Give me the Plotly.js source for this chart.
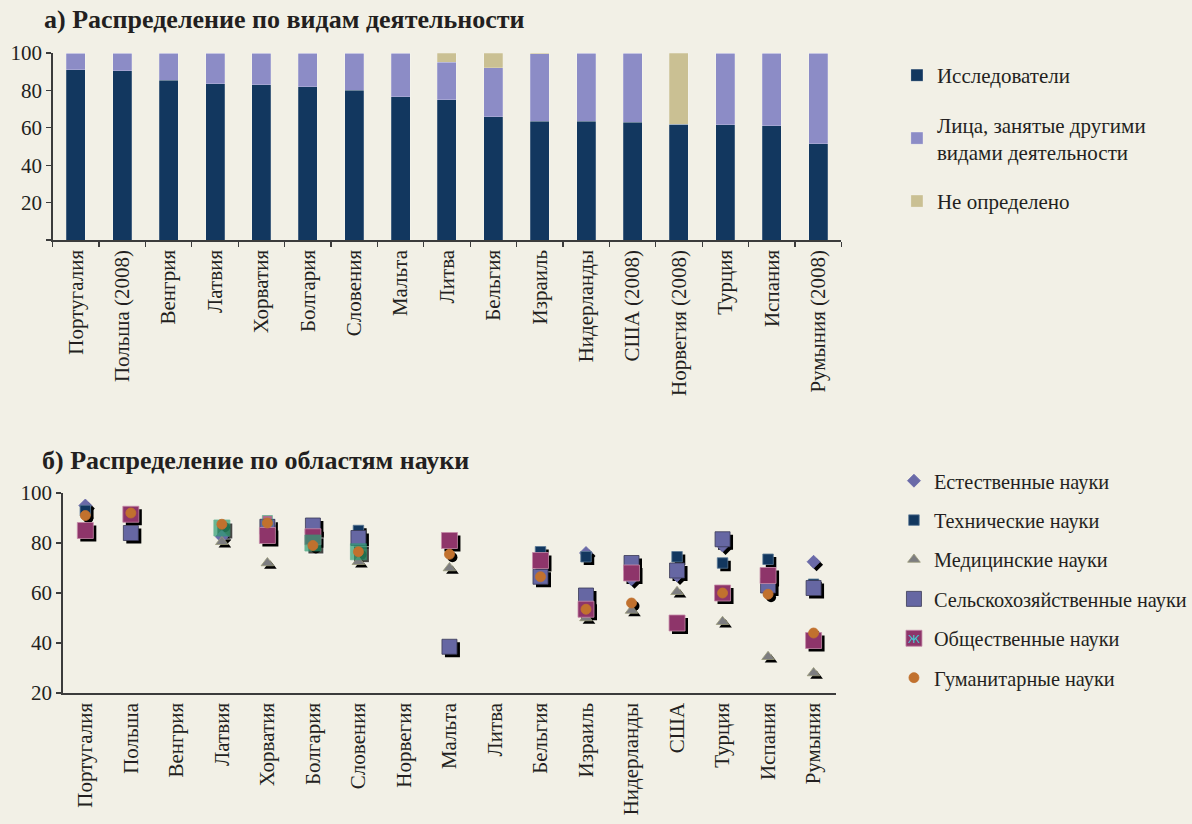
<!DOCTYPE html>
<html>
<head>
<meta charset="utf-8">
<script src="https://cdn.plot.ly/plotly-3.0.1.min.js"></script>
<style>
  html, body { margin: 0; padding: 0; background: #F2F0E6; }
  #chart { width: 1192px; height: 824px; }
</style>
</head>
<body>
<div id="chart"></div>
<script>
// --- a) Researchers vs. other staff, % ---
const countriesA = ['Португалия', 'Польша (2008)', 'Венгрия', 'Латвия', 'Хорватия', 'Болгария',
  'Словения', 'Мальта', 'Литва', 'Бельгия', 'Израиль', 'Нидерланды', 'США (2008)',
  'Норвегия (2008)', 'Турция', 'Испания', 'Румыния (2008)'];
const researchers = [91, 90.5, 85.5, 83.5, 83, 82, 80, 76.5, 75, 66, 63.5, 63.5, 63, 62, 61.5, 61, 51.5];
const otherStaff  = [9, 9.5, 14.5, 16.5, 17, 18, 20, 23.5, 20, 26, 36, 36.5, 37, 0, 38.5, 39, 48.5];
const notDefined  = [0, 0, 0, 0, 0, 0, 0, 0, 5, 8, 0.5, 0, 0, 38, 0, 0, 0];

// --- b) Researchers by field of science, % ---
const countriesB = ['Португалия', 'Польша', 'Венгрия', 'Латвия', 'Хорватия', 'Болгария', 'Словения',
  'Норвегия', 'Мальта', 'Литва', 'Бельгия', 'Израиль', 'Нидерланды', 'США', 'Турция', 'Испания', 'Румыния'];
const natural      = [95, null, null, 82.5, null, null, null, null, null, null, null, 76, 65.5, 67, 79, null, 72.5];
const technical    = [93, null, null, null, null, null, 85, null, null, null, 76.5, 74.5, null, 74.5, 72, 73.5, 63.5];
const medical      = [null, null, null, 80.5, 72, null, 72.5, null, 70, null, null, 50, 53, 60.5, 48.5, 34.5, 28];
const agricultural = [null, 84, null, null, 86.5, 87, 82, null, 38.5, null, 66.5, 59, 72, 69, 81.5, 63, 62];
const social       = [85, 91.5, null, null, 83, 82.5, null, null, 81, null, 73, 53.5, 68, 48, 60, 67, 41];
const socialAlt    = [null, null, null, 86, 89, 80, 76.5, null, null, null, null, null, null, null, null, null, null];
const humanities   = [91, 92, null, 87.5, 88, 79, 76.5, null, 75.5, null, 66.5, 53.5, 56, null, 60, 59.5, 44];

const FONT = 'Liberation Serif, Times New Roman, serif';
const INK = '#231F20';
const AXIS = '#3C3C3C';
const W = 1192, H = 824;

// plot-area boxes in pixels
const boxA = {l: 53, r: 847, t: 53, b: 240};
const boxB = {l: 63, r: 842, t: 493, b: 693};
const SH = 3; // marker shadow offset, px
const dx = px => px / W;
const dy = px => 1 - px / H;

const traces = [];

// stacked bars
const barSeries = [
  {name: 'Исследователи', y: researchers, color: '#12375F'},
  {name: 'Лица, занятые другими<br>видами деятельности', y: otherStaff, color: '#8C8CC6'},
  {name: 'Не определено', y: notDefined, color: '#CAC093'}
];
barSeries.forEach((s, i) => traces.push({
  type: 'bar', x: countriesA, y: s.y, name: s.name,
  marker: {color: s.color, line: {color: 'rgba(255,255,255,0.35)', width: 0.6}},
  xaxis: 'x', yaxis: 'y', legend: 'legend', legendgroup: 'a' + i,
  hoverinfo: 'skip'
}));

// scatter series: shadows go on x2/y2 (drawn first), marks on x3/y3
const pointSeries = [
  {name: 'Естественные науки', y: natural, symbol: 'diamond', size: 10, color: '#6A6AA8', line: '#6A6AA8'},
  {name: 'Технические науки', y: technical, symbol: 'square', size: 10.5, color: '#12375F', line: '#5A7896'},
  {name: 'Медицинские науки', y: medical, symbol: 'triangle-up', size: 11, color: '#7D7D80', line: '#9A9A7A'},
  {name: 'Сельскохозяйственные науки', y: agricultural, symbol: 'square', size: 15, color: '#6667A3', line: '#3A3A55'},
  {name: 'Общественные науки', y: social, symbol: 'square', size: 16, color: '#8E356A', line: '#C58AA8'},
  {name: 'Общественные науки', y: socialAlt, symbol: 'square', size: [0, 0, 0, 16, 10, 16, 16],
   color: [null, null, null, '#2F9E74', '#8E356A', '#2F9E74', '#2F9E74'], line: '#2F9E74', hidden: true},
  {name: 'Гуманитарные науки', y: humanities, symbol: 'circle', size: 10, color: '#C1712E', line: '#C1712E'}
];
pointSeries.forEach(s => traces.push({
  type: 'scatter', mode: 'markers', x: countriesB, y: s.y, showlegend: false,
  marker: {symbol: s.symbol, size: s.size, color: '#000000'},
  xaxis: 'x2', yaxis: 'y2', hoverinfo: 'skip'
}));
pointSeries.forEach((s, i) => traces.push({
  type: 'scatter', mode: 'markers', x: countriesB, y: s.y, name: s.name,
  showlegend: !s.hidden, legend: 'legend2', legendgroup: 'b' + i,
  marker: {symbol: s.symbol, size: s.size, color: s.color, line: {color: s.line, width: 0.8}},
  xaxis: 'x3', yaxis: 'y3'
}));

const tickFont = {family: FONT, size: 21, color: INK};

const layout = {
  width: W, height: H,
  margin: {l: 0, r: 0, t: 0, b: 0},
  paper_bgcolor: '#F2F0E6', plot_bgcolor: 'rgba(0,0,0,0)',
  barmode: 'stack', bargap: 0.59,
  showlegend: true,
  font: {family: FONT, color: INK},
  xaxis: {
    domain: [dx(boxA.l), dx(boxA.r)], anchor: 'y', type: 'category',
    showline: true, linecolor: AXIS, linewidth: 1.5,
    ticks: 'outside', tickson: 'boundaries', ticklen: 5, tickcolor: AXIS, tickwidth: 1.2,
    tickangle: -90, tickfont: tickFont, showgrid: false, fixedrange: true
  },
  yaxis: {
    domain: [dy(boxA.b), dy(boxA.t)], anchor: 'x', range: [0, 100],
    tickvals: [0, 20, 40, 60, 80, 100], ticktext: ['', '20', '40', '60', '80', '100'],
    showline: true, linecolor: AXIS, linewidth: 1.5,
    ticks: 'outside', ticklen: 5, tickcolor: AXIS, tickwidth: 1.2,
    tickfont: tickFont, showgrid: false, zeroline: false, fixedrange: true
  },
  xaxis2: {
    domain: [dx(boxB.l + SH), dx(boxB.r + SH)], anchor: 'y2', type: 'category',
    range: [-0.5, countriesB.length - 0.5], visible: false, fixedrange: true
  },
  yaxis2: {
    domain: [dy(boxB.b + SH), dy(boxB.t + SH)], anchor: 'x2', range: [20, 100],
    visible: false, fixedrange: true
  },
  xaxis3: {
    domain: [dx(boxB.l), dx(boxB.r)], anchor: 'y3', type: 'category',
    range: [-0.5, countriesB.length - 0.5],
    showline: true, linecolor: AXIS, linewidth: 1.5, ticks: '',
    tickangle: -90, tickfont: tickFont, showgrid: false, fixedrange: true
  },
  yaxis3: {
    domain: [dy(boxB.b), dy(boxB.t)], anchor: 'x3', range: [20, 100],
    tickvals: [20, 40, 60, 80, 100],
    showline: true, linecolor: AXIS, linewidth: 1.5,
    ticks: 'outside', ticklen: 5, tickcolor: AXIS, tickwidth: 1.2,
    tickfont: tickFont, showgrid: false, zeroline: false, fixedrange: true
  },
  legend: {
    x: dx(903), y: dy(55), xanchor: 'left', yanchor: 'top',
    bgcolor: 'rgba(0,0,0,0)', font: {family: FONT, size: 21, color: INK},
    traceorder: 'grouped', tracegroupgap: 19, itemclick: false, itemdoubleclick: false
  },
  legend2: {
    x: dx(900), y: dy(461), xanchor: 'left', yanchor: 'top',
    bgcolor: 'rgba(0,0,0,0)', font: {family: FONT, size: 20.3, color: INK},
    traceorder: 'grouped', tracegroupgap: 10, itemclick: false, itemdoubleclick: false
  },
  annotations: [
    {text: '<b>а) Распределение по видам деятельности</b>', xref: 'paper', yref: 'paper',
     x: dx(42), y: dy(19), xanchor: 'left', yanchor: 'middle', showarrow: false,
     font: {family: FONT, size: 26, color: INK}},
    {text: '<b>б) Распределение по областям науки</b>', xref: 'paper', yref: 'paper',
     x: dx(40), y: dy(460), xanchor: 'left', yanchor: 'middle', showarrow: false,
     font: {family: FONT, size: 26, color: INK}},
    // cyan asterisk glyph inside the social-sciences legend key
    {text: 'Ж', xref: 'paper', yref: 'paper',
     x: dx(920), y: dy(639), xanchor: 'center', yanchor: 'middle', showarrow: false,
     font: {family: 'DejaVu Sans', size: 11, color: '#3FC9D4'}}
  ]
};

Plotly.newPlot('chart', traces, layout, {displayModeBar: false, staticPlot: true});
</script>
</body>
</html>
